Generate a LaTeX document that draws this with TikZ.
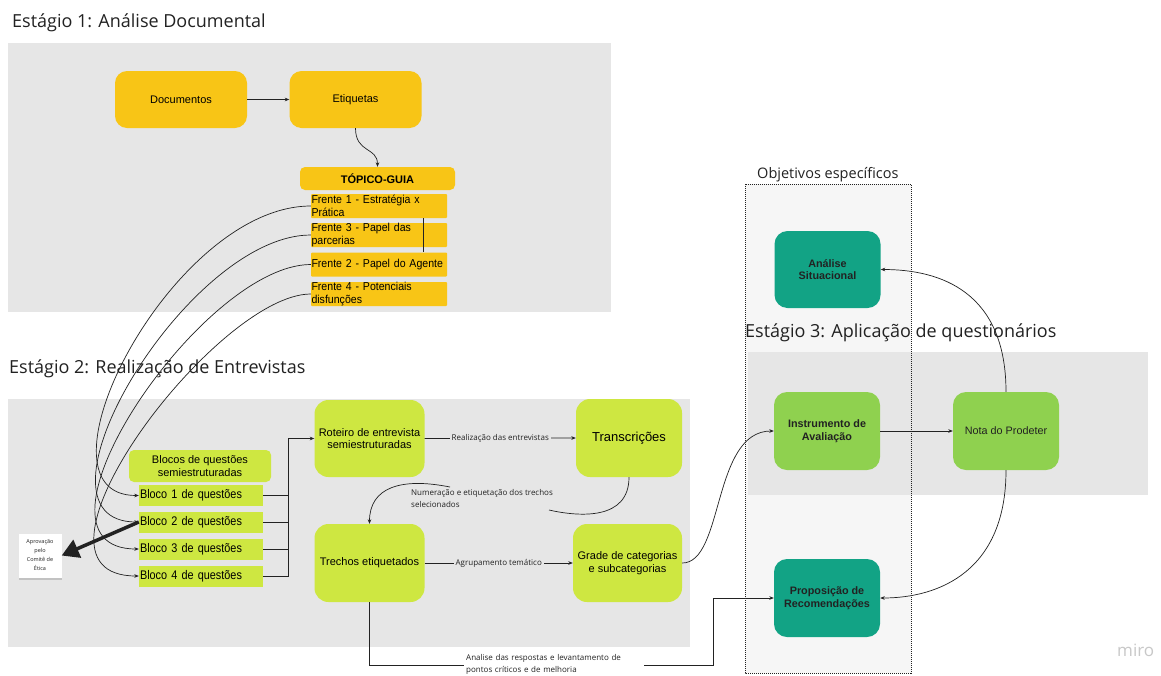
\documentclass[tikz,border=0pt]{standalone}
\usepackage{fontspec}
\setmainfont{Liberation Sans}
\newfontfamily\opensans{Open Sans}
\newfontfamily\narrowa[FakeStretch=0.92]{Liberation Sans}
\newfontfamily\narrowb[FakeStretch=0.87]{Liberation Sans}
\usetikzlibrary{arrows.meta,calc,shadows}
\definecolor{panel}{HTML}{E6E6E6}
\definecolor{yel}{HTML}{F8C516}
\definecolor{lime}{HTML}{CEE741}
\definecolor{grn}{HTML}{8FD14F}
\definecolor{tealg}{HTML}{12A385}
\definecolor{objbg}{HTML}{F6F6F6}
\definecolor{ink}{HTML}{222222}
\definecolor{mirog}{HTML}{C8C8C8}
\newcommand{\fz}[2]{\fontsize{#1}{#2}\selectfont}
\tikzset{
  panelbox/.style={fill=panel, draw=none},
  ttl/.style={font=\opensans\fz{18}{22}, text=ink, inner sep=0pt, anchor=base west},
  ybig/.style={fill=yel, rounded corners=12pt, minimum width=132pt, minimum height=57pt, inner sep=1pt, font=\fz{11}{13}},
  frente/.style={fill=yel, rounded corners=1pt, minimum width=136pt, minimum height=24pt, inner xsep=0.5pt, inner ysep=0pt, text width=135pt, align=left, font=\narrowa\fz{11.5}{12.5}},
  lbig/.style={fill=lime, rounded corners=14pt, minimum width=110pt, minimum height=77pt, inner sep=1pt, align=center, font=\fz{11}{12.6}},
  bloco/.style={fill=lime, minimum width=124pt, minimum height=21pt, inner xsep=1pt, inner ysep=0pt, text width=122pt, align=left, font=\narrowb\fz{12.5}{13}},
  sbox/.style={rounded corners=13pt, minimum width=106pt, minimum height=77pt, inner sep=1pt, align=center, font=\bfseries\fz{10.8}{12.8}, text=ink},
  conn/.style={draw=ink, line width=0.7pt},
  arr/.style={conn, -{Stealth[length=4.5pt,width=3.6pt]}},
  smalllbl/.style={font=\opensans\fz{8}{12}, text=ink, inner sep=0pt, align=left}
}
\begin{document}
\begin{tikzpicture}[x=1pt,y=-1pt]
\useasboundingbox (0,0) rectangle (1161,675);
\fill[white] (0,0) rectangle (1161,675);

% ---------- panels ----------
\fill[panelbox] (8,43) rectangle (611,312);
\fill[panelbox] (8,399) rectangle (690,647);
\fill[objbg] (745,184) rectangle (911,673);
\fill[panelbox] (748,352) rectangle (1148,495);
\draw[ink, line width=1pt, dash pattern=on 1pt off 1pt] (745,184) rectangle (911,673);

% ---------- titles ----------
\node[ttl] (t1) at (12,27) {Estágio 1: Análise Documental};
\node[ttl] (t2) at (9,373) {Estágio 2: Realização de Entrevistas};
\node[ttl] (t3) at (745,337) {Estágio 3: Aplicação de questionários};
\node[ttl, font=\opensans\fz{14.5}{18}] (t4) at (757,178) {Objetivos específicos};
\node[ttl, font=\opensans\fz{17}{20}, text=mirog] (miro) at (1117,656) {miro};

% ---------- stage 1 ----------
\node[ybig] (doc) at (181,99.5) {Documentos};
\node[ybig] (eti) at (355.5,99.5) {Etiquetas};
\node[fill=yel, rounded corners=5pt, minimum width=155pt, minimum height=23pt, inner sep=0pt, font=\bfseries\fz{11}{13}] (tg) at (377.5,178.5) {TÓPICO-GUIA};
\node[frente] (f1) at (379,206) {Frente 1 - Estratégia x\\Prática};
\node[frente] (f3) at (379,235) {Frente 3 - Papel das\\parcerias};
\node[frente] (f2) at (379,264.5) {Frente 2 - Papel do Agente};
\node[frente] (f4) at (379,294) {Frente 4 - Potenciais\\disfunções};

\draw[arr] (doc) -- (eti);
\draw[arr] (eti.south) .. controls +(0,25) and +(0,-20) .. (tg.north);
\draw[ink, line width=0.5pt] ($(f1.south east)+(-24,0)$) -- ($(f2.north east)+(-24,0)$);

% ---------- stage 2 ----------
\node[fill=lime, rounded corners=5pt, minimum width=142pt, minimum height=32pt, inner sep=0pt, align=center, font=\fz{11}{12.6}] (blh) at (200,466) {Blocos de questões\\semiestruturadas};
\node[bloco] (b1) at (201,495.5) {Bloco 1 de questões};
\node[bloco] (b2) at (201,522) {Bloco 2 de questões};
\node[bloco] (b3) at (201,549) {Bloco 3 de questões};
\node[bloco] (b4) at (201,576) {Bloco 4 de questões};
\node[fill=white, minimum width=43pt, minimum height=44pt, inner sep=0pt, align=center, font=\opensans\fz{5.5}{9}, text=ink,
      drop shadow={shadow xshift=0pt, shadow yshift=-2.5pt, opacity=0.35}] (apr) at (40,555.5) {Aprovação\\pelo\\Comitê de\\Ética};

\node[lbig] (rot) at (369.5,438.5) {Roteiro de entrevista\\semiestruturadas};
\node[lbig, minimum width=106pt, minimum height=78pt, font=\fz{13}{15}] (tra) at (629,438) {Transcrições};
\node[lbig, minimum height=78pt] (tre) at (369.5,563) {Trechos etiquetados};
\node[lbig, minimum width=109pt, minimum height=78pt] (gra) at (627.5,563) {Grade de categorias\\e subcategorias};

% frente -> bloco curves
\draw[arr] (f1.west) .. controls +(-140,0) and +(-115,0) .. (b1.west);
\draw[arr] (f3.west) .. controls +(-125,0) and +(-122,0) .. (b2.west);
\draw[arr] (f2.west) .. controls +(-110,0) and +(-128,0) .. (b3.west);
\draw[arr] (f4.west) .. controls +(-95,0) and +(-135,0) .. (b4.west);

% thick arrow to approval
\draw[ink, line width=3.5pt, -{Triangle[length=17pt,width=19pt]}] (b2.west) -- (apr.east);

% bloco bus -> roteiro
\draw[conn] (b1.east) -- ++(25,0);
\draw[conn] (b2.east) -- ++(25,0);
\draw[conn] (b3.east) -- ++(25,0);
\draw[arr] (b4.east) -- ++(25,0) |- (rot.west);

\draw[arr] (rot.east) -- node[fill=panel, inner xsep=2pt, inner ysep=1pt, font=\opensans\fz{8}{10}, text=ink] {Realização das entrevistas} (tra.west);
\draw[arr] (tre.east) -- node[fill=panel, inner xsep=2pt, inner ysep=1pt, font=\opensans\fz{8}{10}, text=ink] {Agrupamento temático} (gra.west);

% transcricoes -> trechos (label hides middle)
\coordinate (nA) at (549,510);
\coordinate (nB) at (450,487);
\draw[conn] (tra.south) .. controls +(0,43) and +(31,7) .. (nA);
\draw[arr] (nB) .. controls (400,477) and (369.5,488) .. (tre.north);
\node[smalllbl, anchor=west] (lblnum) at (411,498) {Numeração e etiquetação dos trechos\\selecionados};

% ---------- stage 3 ----------
\node[sbox, fill=tealg] (ana) at (827.5,269.5) {Análise\\Situacional};
\node[sbox, fill=grn, minimum height=78pt] (ins) at (827,431) {Instrumento de\\Avaliação};
\node[sbox, fill=grn, minimum height=78pt, font=\fz{10.8}{12.8}] (nota) at (1006,431) {Nota do Prodeter};
\node[sbox, fill=tealg, minimum height=78pt] (prop) at (827,598) {Proposição de\\Recomendações};

\coordinate (cr) at (713,665);
\draw[arr] (gra.east) .. controls +(42,0) and +(-62,0) .. (ins.west);
\draw[arr] (tre.south) |- (cr) |- (prop.west);
\draw[arr] (ins) -- (nota);
\draw[arr] (nota.north) .. controls +(0,-100) and +(60,0) .. (ana.east);
\draw[arr] (nota.south) .. controls +(0,100) and +(60,0) .. (prop.east);

\node[smalllbl, anchor=west, fill=white, inner xsep=2pt, inner ysep=1pt, text width=176pt] (lblana) at (464,664) {Analise das respostas e levantamento de\\pontos críticos e de melhoria};
\end{tikzpicture}
\end{document}
